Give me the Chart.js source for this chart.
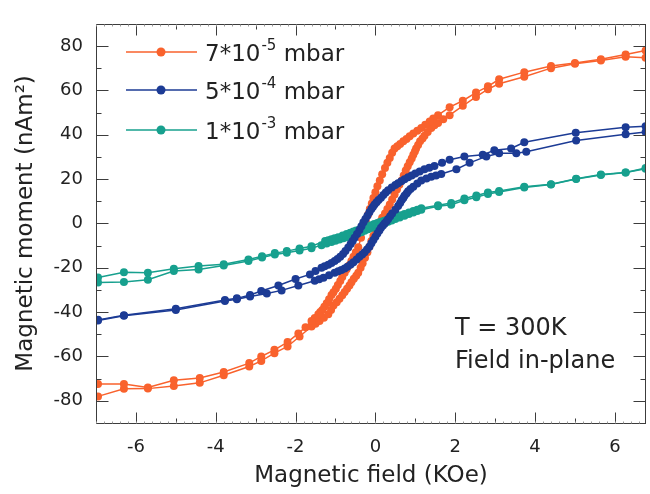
<!DOCTYPE html>
<html>
<head>
<meta charset="utf-8">
<script src="https://cdn.jsdelivr.net/npm/chart.js@4.4.1/dist/chart.umd.min.js"></script>
<style>
  body { margin: 0; background: #fff; }
  #wrap { width: 650px; height: 494px; }
</style>
</head>
<body>
<div id="wrap"><canvas id="chartCanvas" width="650" height="494"></canvas></div>
<script>
// legend labels: base, exponent
const seriesBase = ['7*10', '5*10', '1*10'];
const seriesExp = ['-5', '-4', '-3'];
const seriesUnit = ' mbar';
const colors = ['#f9622d', '#1c3b95', '#17a08e'];

const xTicks = [-6, -4, -2, 0, 2, 4, 6];
const yTicks = [-80, -60, -40, -20, 0, 20, 40, 60, 80];

// 7*10^-5 mbar, descending branch (from +H)
const orangeDownField = [6.77, 6.27, 5.65, 5.0, 4.4, 3.73, 3.1, 2.82, 2.52, 2.19, 1.86, 1.57, 1.45, 1.36, 1.25, 1.15, 1.05, 0.95, 0.86, 0.78, 0.7, 0.62, 0.55, 0.48, 0.42, 0.36, 0.3, 0.24, 0.17, 0.11, 0.05, 0.0, -0.05, -0.09, -0.14, -0.18, -0.24, -0.3, -0.36, -0.43, -0.49, -0.55, -0.6, -0.66, -0.72, -0.77, -0.83, -0.88, -0.94, -0.99, -1.05, -1.1, -1.16, -1.22, -1.28, -1.33, -1.38, -1.43, -1.52, -1.6, -1.75, -1.93, -2.2, -2.53, -2.86, -3.16, -3.8, -4.4, -5.05, -5.7, -6.3, -6.95];
const orangeDownMoment = [78, 76.2, 74, 72.3, 71, 68.2, 65, 61.8, 59, 55.3, 52.4, 48.8, 47.3, 46, 44.5, 43, 41.8, 40.5, 39.3, 38, 37, 35.8, 34.8, 33.8, 31.8, 29.5, 27.3, 25, 22.2, 19.4, 16.7, 14, 11.5, 9, 6.5, 4, 1, -2, -6.5, -10.8, -13, -15, -17, -19, -20.7, -22.3, -24.2, -26, -27.8, -29.5, -31, -32.3, -34.2, -36, -37.6, -39, -40, -41, -42.6, -44, -46.8, -49.6, -53.5, -57, -60, -63, -67, -69.7, -70.7, -74, -72.4, -72.4];
// ascending branch (from -H)
const orangeUpField = [-6.95, -6.3, -5.7, -5.05, -4.4, -3.8, -3.16, -2.86, -2.53, -2.2, -1.9, -1.6, -1.5, -1.4, -1.29, -1.18, -1.11, -1.05, -0.97, -0.9, -0.83, -0.77, -0.71, -0.65, -0.6, -0.54, -0.48, -0.43, -0.37, -0.32, -0.26, -0.2, -0.15, -0.1, -0.05, 0.0, 0.05, 0.1, 0.17, 0.24, 0.3, 0.36, 0.42, 0.48, 0.54, 0.6, 0.66, 0.71, 0.76, 0.81, 0.86, 0.91, 0.95, 0.99, 1.02, 1.07, 1.12, 1.18, 1.23, 1.31, 1.4, 1.48, 1.57, 1.7, 1.86, 2.19, 2.52, 2.82, 3.1, 3.73, 4.4, 5.0, 5.65, 6.27, 6.77];
const orangeUpMoment = [-78, -74.6, -74.5, -73.3, -71.9, -68.5, -64.5, -62, -58.5, -55.5, -51, -46.5, -45.3, -44, -42.5, -41, -39, -37, -35.5, -34, -32.4, -30.9, -29.5, -28, -26.5, -25, -23.6, -22.3, -20, -18, -15.5, -13, -10.5, -7.9, -5.7, -3.5, -1.5, 0.5, 2.5, 4.5, 6.5, 8.5, 10.8, 13, 15.3, 17.4, 19.4, 21.6, 23.8, 25.8, 27.6, 29.3, 31, 32.4, 33.8, 35.4, 37, 38.3, 39.5, 41.2, 43, 44.2, 45.3, 47, 48.8, 53, 57, 60.5, 63, 66.1, 70, 72, 73.5, 75.1, 74.7];

// 5*10^-4 mbar
const blueDownField = [6.77, 6.27, 5.02, 3.73, 3.4, 2.98, 2.69, 2.23, 1.86, 1.67, 1.48, 1.35, 1.23, 1.11, 1.0, 0.91, 0.82, 0.73, 0.65, 0.57, 0.5, 0.41, 0.32, 0.26, 0.2, 0.14, 0.08, 0.03, -0.02, -0.06, -0.1, -0.15, -0.2, -0.25, -0.3, -0.35, -0.4, -0.46, -0.52, -0.57, -0.62, -0.68, -0.75, -0.81, -0.88, -0.95, -1.02, -1.1, -1.18, -1.27, -1.35, -1.5, -1.64, -2.0, -2.43, -2.86, -3.14, -3.47, -3.77, -5.0, -6.3, -6.95];
const blueDownMoment = [43.8, 43.4, 40.9, 36.6, 33.8, 33, 30.9, 30.2, 28.7, 27.3, 25.9, 25.1, 24.4, 23.4, 22.5, 21.6, 20.8, 19.9, 19, 18.1, 17.3, 16.2, 15, 13.9, 12.8, 11.6, 10.5, 9.5, 8.5, 7.5, 6.5, 5, 3.5, 2, 0.5, -1.3, -3, -4.8, -6.5, -7.9, -9.3, -10.9, -12.5, -13.8, -15, -16, -17, -17.8, -18.6, -19.3, -20, -21.5, -23, -25.1, -28, -30.5, -32.3, -33.8, -34.5, -38.5, -41.4, -43.5];
const blueUpField = [-6.95, -6.3, -5.0, -3.77, -3.47, -3.14, -2.72, -2.35, -1.93, -1.52, -1.41, -1.3, -1.16, -1.02, -0.93, -0.85, -0.77, -0.7, -0.62, -0.55, -0.47, -0.4, -0.33, -0.27, -0.21, -0.15, -0.1, -0.05, 0.0, 0.05, 0.1, 0.14, 0.19, 0.23, 0.28, 0.32, 0.37, 0.42, 0.5, 0.57, 0.62, 0.66, 0.7, 0.73, 0.78, 0.82, 0.88, 0.95, 1.05, 1.15, 1.28, 1.4, 1.52, 1.65, 2.03, 2.36, 2.78, 3.1, 3.53, 3.78, 5.03, 6.27, 6.77];
const blueUpMoment = [-43.8, -41.6, -39, -35, -34.2, -33, -31.6, -30.2, -28, -25.9, -25.2, -24.5, -23.4, -22.3, -21.6, -21, -20.3, -19.5, -18.5, -17.5, -16.3, -15, -14, -13, -11.8, -10.5, -9, -7.5, -6, -4.5, -3.2, -2, -1, 0, 1, 2, 3.2, 4.5, 6.2, 7.9, 9.2, 10.5, 11.5, 12.5, 13.5, 14.5, 15.5, 16.5, 18, 19.4, 20.2, 21, 21.6, 22.3, 24.4, 27.3, 30.2, 31.6, 31.6, 32.3, 37.4, 40.2, 41.2];

// 1*10^-3 mbar
const tealDownField = [6.77, 6.27, 5.65, 5.03, 4.4, 3.73, 3.1, 2.82, 2.53, 2.23, 1.9, 1.57, 1.15, 1.05, 0.95, 0.84, 0.73, 0.64, 0.55, 0.46, 0.38, 0.3, 0.22, 0.13, 0.05, -0.03, -0.1, -0.18, -0.25, -0.33, -0.4, -0.48, -0.55, -0.63, -0.72, -0.82, -0.93, -1.02, -1.1, -1.18, -1.26, -1.6, -1.9, -2.22, -2.52, -2.84, -3.18, -3.8, -4.43, -5.05, -5.7, -6.3, -6.95];
const tealDownMoment = [25, 23, 22, 20.1, 17.7, 16.5, 14.6, 13.9, 12.6, 11.2, 9.2, 8.2, 6.8, 6.2, 5.6, 4.9, 4.2, 3.7, 3.2, 2.7, 2.2, 1.7, 1.2, 0.7, 0.2, -0.3, -0.8, -1.3, -1.8, -2.2, -2.7, -3.2, -3.6, -4.2, -4.8, -5.5, -6.2, -6.7, -7.2, -7.6, -7.9, -10.3, -11.3, -12.5, -13.4, -14.8, -16.3, -18.4, -19.2, -20.4, -22.3, -22, -24.4];
const tealUpField = [-6.95, -6.3, -5.7, -5.05, -4.43, -3.8, -3.18, -2.84, -2.52, -2.22, -1.9, -1.6, -1.35, -1.22, -1.1, -1.0, -0.9, -0.8, -0.7, -0.61, -0.52, -0.44, -0.35, -0.27, -0.18, -0.09, 0.0, 0.08, 0.15, 0.24, 0.32, 0.41, 0.5, 0.61, 0.73, 0.84, 0.95, 1.05, 1.15, 1.57, 1.9, 2.23, 2.53, 2.82, 3.1, 3.73, 4.4, 5.03, 5.65, 6.27, 6.77];
const tealUpMoment = [-26.6, -26.4, -25.4, -21.5, -20.8, -19, -17, -15.4, -14, -13.2, -12.2, -11.2, -9.8, -9.1, -8.4, -7.8, -7.3, -6.7, -6.2, -5.7, -5.2, -4.6, -4, -3.3, -2.6, -2, -1.4, -0.9, -0.5, 0.1, 0.7, 1.3, 2, 2.7, 3.4, 4.2, 4.9, 5.6, 6.2, 7.7, 8.4, 10.4, 11.8, 13.3, 14.2, 16.2, 17.5, 20, 21.8, 23, 24.6];

const FONT = "'DejaVu Sans', sans-serif";

function pts(xs, ys) {
  return xs.map((x, i) => ({ x: x, y: ys[i] }));
}

function branch(xs, ys, color, order) {
  return {
    data: pts(xs, ys),
    showLine: true,
    borderColor: color,
    backgroundColor: color,
    borderWidth: 1.5,
    pointRadius: 4,
    pointBorderWidth: 0,
    order: order
  };
}

const datasets = [
  branch(orangeDownField, orangeDownMoment, colors[0], 2),
  branch(orangeUpField, orangeUpMoment, colors[0], 2),
  branch(blueDownField, blueDownMoment, colors[1], 0),
  branch(blueUpField, blueUpMoment, colors[1], 0),
  branch(tealDownField, tealDownMoment, colors[2], 1),
  branch(tealUpField, tealUpMoment, colors[2], 1)
];

// frame, inward ticks, legend and note
const decor = {
  id: 'decor',
  afterDraw(chart) {
    const { ctx, chartArea: a, scales: { x, y } } = chart;
    ctx.save();
    ctx.strokeStyle = '#3c3c3c';
    ctx.lineWidth = 1;
    ctx.strokeRect(Math.round(a.left) + 0.5, Math.round(a.top) + 0.5,
      Math.round(a.right - a.left) - 1, Math.round(a.bottom - a.top));

    const b = Math.round(a.bottom) + 0.5, t = Math.round(a.top) + 0.5;
    const l = Math.round(a.left) + 0.5, r = Math.round(a.right) - 0.5;
    ctx.beginPath();
    for (let v = -7; v <= 7; v++) {
      const px = Math.round(x.getPixelForValue(v)) + 0.5;
      if (px < a.left || px > a.right) continue;
      const len = v % 2 === 0 ? 11 : 5;
      ctx.moveTo(px, b); ctx.lineTo(px, b - len);
      ctx.moveTo(px, t); ctx.lineTo(px, t + len);
    }
    for (let v = -90; v <= 90; v += 10) {
      const py = Math.round(y.getPixelForValue(v)) + 0.5;
      const len = v % 20 === 0 ? 12 : 5;
      ctx.moveTo(l, py); ctx.lineTo(l + len, py);
      ctx.moveTo(r, py); ctx.lineTo(r - len, py);
    }
    ctx.stroke();
    // fine minor marks
    ctx.strokeStyle = '#9a9a9a';
    ctx.beginPath();
    for (let v = -7; v <= 7.01; v += 0.2) {
      const px = Math.round(x.getPixelForValue(v)) + 0.5;
      if (px < a.left || px > a.right) continue;
      ctx.moveTo(px, b); ctx.lineTo(px, b - 2);
      ctx.moveTo(px, t); ctx.lineTo(px, t + 2);
    }
    ctx.stroke();

    // legend
    const rows = [52, 90, 130];
    rows.forEach((ry, i) => {
      ctx.strokeStyle = colors[i];
      ctx.fillStyle = colors[i];
      ctx.lineWidth = 1.5;
      ctx.beginPath();
      ctx.moveTo(126, ry); ctx.lineTo(197, ry);
      ctx.stroke();
      ctx.beginPath();
      ctx.arc(161, ry, 4.5, 0, Math.PI * 2);
      ctx.fill();
      ctx.fillStyle = '#222';
      ctx.textBaseline = 'alphabetic';
      ctx.textAlign = 'left';
      ctx.font = '23px ' + FONT;
      const base = seriesBase[i];
      ctx.fillText(base, 205, ry + 9);
      let w = ctx.measureText(base).width;
      ctx.font = '15px ' + FONT;
      ctx.fillText(seriesExp[i], 205 + w + 1, ry - 2);
      w += ctx.measureText(seriesExp[i]).width + 1;
      ctx.font = '23px ' + FONT;
      ctx.fillText(seriesUnit, 205 + w, ry + 9);
    });

    ctx.fillStyle = '#222';
    ctx.font = '24px ' + FONT;
    ctx.fillText('T = 300K', 455, 335);
    ctx.fillText('Field in-plane', 455, 368);
    ctx.restore();
  }
};

new Chart(document.getElementById('chartCanvas'), {
  type: 'scatter',
  data: { datasets: datasets },
  options: {
    responsive: false,
    animation: false,
    devicePixelRatio: 1,
    layout: { padding: { left: 0, right: 1, top: 8, bottom: 0 } },
    plugins: {
      legend: { display: false },
      tooltip: { enabled: false }
    },
    scales: {
      x: {
        type: 'linear',
        min: -7,
        max: 6.78,
        afterBuildTicks: s => { s.ticks = xTicks.map(v => ({ value: v })); },
        afterFit: s => { s.height = 71; },
        grid: { display: false, drawTicks: false },
        border: { display: false },
        ticks: { color: '#222', padding: 14, font: { family: FONT, size: 18 } },
        title: {
          display: true,
          text: 'Magnetic field (KOe)',
          color: '#222',
          font: { family: FONT, size: 23 },
          padding: { top: 0, bottom: 4 }
        }
      },
      y: {
        type: 'linear',
        min: -90,
        max: 90,
        afterBuildTicks: s => { s.ticks = yTicks.map(v => ({ value: v })); },
        afterFit: s => { s.width = 96; },
        grid: { display: false, drawTicks: false },
        border: { display: false },
        ticks: { color: '#222', padding: 13, font: { family: FONT, size: 18 } },
        title: {
          display: true,
          text: 'Magnetic moment (nAm²)',
          color: '#222',
          font: { family: FONT, size: 23 },
          padding: { top: 12, bottom: 0 }
        }
      }
    }
  },
  plugins: [decor]
});
</script>
</body>
</html>
